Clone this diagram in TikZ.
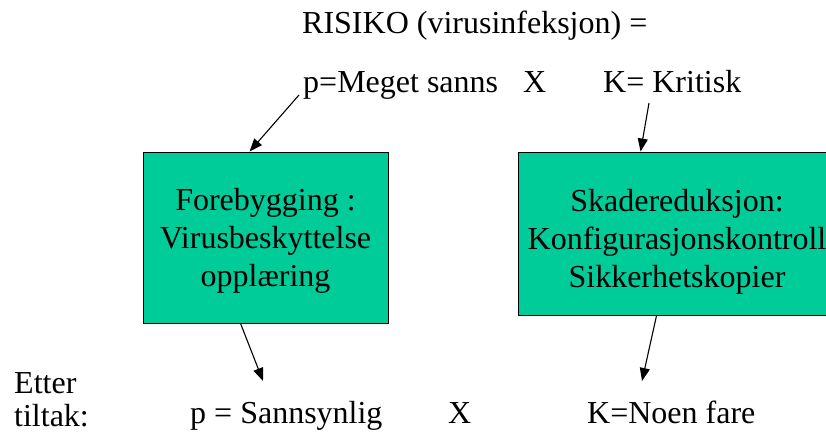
\documentclass[tikz,border=0pt]{standalone}
\usepackage{fontspec}
\setmainfont{Liberation Serif}
\usetikzlibrary{arrows.meta,calc}
\definecolor{boxgreen}{RGB}{0,204,153}
\tikzset{
  txt/.style={inner sep=0pt, anchor=base west, font=\fontsize{32}{38}\selectfont},
  greenbox/.style={draw=black, line width=0.9pt, fill=boxgreen, inner sep=0pt},
  boxtext/.style={inner sep=0pt, align=center, font=\fontsize{32}{38}\selectfont},
  arr/.style={line width=1.1pt, -{Triangle[length=13pt,width=10pt]}}
}
\begin{document}
\begin{tikzpicture}[x=1pt,y=-1pt]
\useasboundingbox (0,0) rectangle (826,432);
\clip (0,0) rectangle (826,432);
\fill[white] (0,0) rectangle (826,432);
\node[txt] (title) at (302,33) {RISIKO (virusinfeksjon) =};
\node[txt] (p1) at (303,92) {p=Meget sanns};
\node[txt] (x1) at (523,92) {X};
\node[txt] (k1) at (603,92) {K= Kritisk};
\node[greenbox, minimum width=245pt, minimum height=171pt] (lbox) at (265.5,237.5) {};
\node[greenbox, minimum width=318pt, minimum height=163pt] (rbox) at (677,233.5) {};
\node[boxtext] (ltext) at ($(lbox.center)+(0,3)$)
  {Forebygging :\\Virusbeskyttelse\\oppl\ae ring};
\node[boxtext] (rtext) at ($(rbox.center)+(0,8)$)
  {Skadereduksjon:\\Konfigurasjonskontroll\\Sikkerhetskopier};
\node[txt] (etter) at (14,393) {Etter};
\node[txt] (tiltak) at (14,426) {tiltak:};
\node[txt] (p2) at (190,423) {p = Sannsynlig};
\node[txt] (x2) at (448,423) {X};
\node[txt] (k2) at (587,423) {K=Noen fare};
\coordinate (a1s) at (299,95);
\coordinate (a2s) at (649,103);
\coordinate (a3e) at (263,381);
\coordinate (a4e) at (642,381);
\draw[arr] (a1s) -- ($(lbox.north west)+(107,0)$);
\draw[arr] (a2s) -- ($(rbox.north west)+(123,0)$);
\draw[arr] ($(lbox.south west)+(98,0)$) -- (a3e);
\draw[arr] ($(rbox.south west)+(139,0)$) -- (a4e);
\end{tikzpicture}
\end{document}
